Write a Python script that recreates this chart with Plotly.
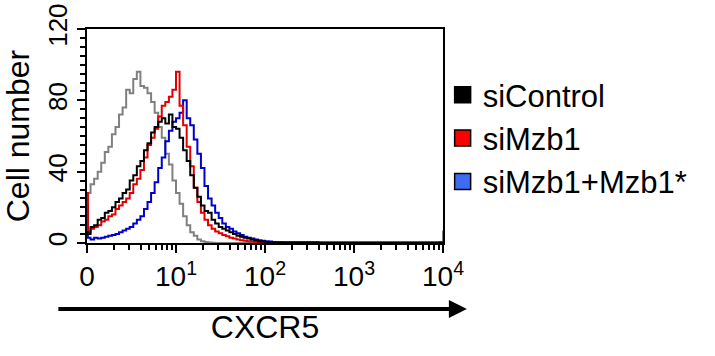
import numpy as np
import plotly.graph_objects as go

# x positions in display decades (0 = "0", 1 = 10^1, ... 4 = 10^4)
cxcr5_decades = [
    0.00, 0.01,
    0.04, 0.08, 0.12, 0.16, 0.20, 0.24, 0.28, 0.32, 0.36, 0.40,
    0.44, 0.48, 0.52, 0.56, 0.60, 0.64, 0.68, 0.72, 0.76, 0.80,
    0.84, 0.88, 0.92, 0.96, 1.00, 1.04, 1.08, 1.12, 1.16, 1.20,
    1.24, 1.28, 1.32, 1.36, 1.40, 1.44, 1.48, 1.52, 1.56, 1.60,
    1.64, 1.68, 1.72, 1.76, 1.80, 1.84, 1.88, 1.92, 1.96, 2.00,
    2.04, 2.08, 2.12, 2.16, 2.20,
    2.40, 2.60, 2.80, 3.00, 3.20, 3.40, 3.60, 3.80, 3.96, 4.00,
]

isotype_counts = [
    24, 28,
    33, 36, 40, 45, 51, 54, 61, 65, 72, 76,
    86, 84, 92, 96, 88, 87, 84, 79, 73, 65,
    59, 50, 44, 35, 28, 22, 15, 10, 6, 4,
    2, 1, 0.5, 0.3, 0.2, 0, 0, 0, 0, 0,
    0, 0, 0, 0, 0, 0, 0, 0, 0, 0,
    0, 0, 0, 0, 0,
    0, 0, 0, 0, 0, 0, 0, 0, 0.5, 7,
]

sicontrol_counts = [
    6, 5,
    9, 10, 13, 14, 17, 18, 20, 23, 25, 28,
    30, 35, 38, 43, 46, 52, 56, 62, 65, 68,
    70, 67, 72, 65, 64, 59, 52, 46, 38, 31,
    26, 21, 18, 17, 13, 11, 9, 8, 7, 6,
    5, 4, 3.5, 3, 2.5, 2, 1.5, 1, 0.8, 0.5,
    0.5, 0.4, 0.3, 0.3, 0.3,
    0.3, 0.2, 0.2, 0.2, 0.2, 0.2, 0.2, 0.2, 0.2, 0.2,
]

simzb1_counts = [
    28, 6,
    8, 9, 10, 12, 13, 15, 16, 19, 21, 23,
    25, 28, 33, 36, 41, 48, 55, 59, 64, 71,
    77, 79, 82, 86, 96, 77, 66, 54, 43, 31,
    23, 17, 13, 10, 8, 6.5, 5.5, 4.5, 3.8, 3,
    2.5, 2, 1.5, 1.2, 1, 0.8, 0.6, 0.5, 0.5, 0.4,
    0.3, 0.3, 0.3, 0.3, 0.3,
    0.3, 0.2, 0.2, 0.2, 0.2, 0.2, 0.2, 0.2, 0.2, 0.2,
]

rescue_counts = [
    22, 3,
    2, 3, 2.5, 3, 3.5, 4, 4.5, 5, 6, 7,
    8, 9, 11, 13, 15, 19, 23, 28, 34, 42,
    48, 57, 63, 68, 70, 73, 80, 70, 66, 58,
    50, 42, 32, 25, 21, 17, 14, 11, 9, 8,
    6.5, 5.5, 4.5, 3.5, 3, 2.5, 2, 1.5, 1.2, 1,
    0.8, 0.6, 0.5, 0.5, 0.4,
    0.4, 0.3, 0.3, 0.3, 0.3, 0.3, 0.3, 0.3, 0.3, 0.3,
]

legend_labels = ["siControl", "siMzb1", "siMzb1+Mzb1*"]
legend_colors = ["#000000", "#ff0000", "#3d6cf2"]

x_tickvals = [0, 1, 2, 3, 4]
x_ticktext = ["0", "10<sup>1</sup>", "10<sup>2</sup>", "10<sup>3</sup>", "10<sup>4</sup>"]
y_tickvals = [0, 40, 80, 120]

FONT = "Liberation Sans, Arial, sans-serif"

fig = go.Figure()

curves = [
    (isotype_counts, "#808080", "Isotype"),
    (rescue_counts, "#0000cc", legend_labels[2]),
    (simzb1_counts, "#e00000", legend_labels[1]),
    (sicontrol_counts, "#000000", legend_labels[0]),
]
for counts, color, name in curves:
    fig.add_trace(go.Scatter(
        x=cxcr5_decades, y=counts, mode="lines", line=dict(color=color, width=2, shape="hv"),
        name=name, showlegend=False, hoverinfo="skip",
    ))

for i, (lab, col) in enumerate(zip(legend_labels, legend_colors)):
    fig.add_trace(go.Scatter(
        x=[None], y=[None], mode="markers", name=lab, legendrank=i + 1,
        marker=dict(symbol="square", size=16, color=col, line=dict(color="black", width=1.5)),
    ))

minor_x = [d + np.log10(k) for d in range(4) for k in range(2, 10)]

fig.update_layout(
    width=715, height=356,
    margin=dict(l=87, r=272, t=29, b=113, autoexpand=False),
    paper_bgcolor="white", plot_bgcolor="white",
    font=dict(family=FONT, color="black"),
    showlegend=True,
    legend=dict(
        x=0.999, xanchor="left", y=0.49, yanchor="middle",
        font=dict(size=31, family=FONT, color="black"),
        bgcolor="rgba(0,0,0,0)", tracegroupgap=0, itemclick=False,
    ),
    xaxis=dict(
        range=[0, 4], tickvals=x_tickvals, ticktext=x_ticktext, automargin=False,
        showline=True, linecolor="black", linewidth=1.5, mirror=True,
        ticks="outside", ticklen=8, tickwidth=1.5, tickcolor="black",
        tickfont=dict(size=28, family=FONT, color="black"),
        showgrid=False, zeroline=False,
        minor=dict(tickvals=minor_x, ticks="outside", ticklen=5, tickwidth=1.5, tickcolor="black", showgrid=False),
        title=dict(text="CXCR5", font=dict(size=32, family=FONT, color="black"), standoff=24),
    ),
    yaxis=dict(
        range=[0, 120], tickvals=y_tickvals, tickangle=-90, automargin=False,
        showline=True, linecolor="black", linewidth=1.5, mirror=True,
        ticks="outside", ticklen=8, tickwidth=1.5, tickcolor="black",
        tickfont=dict(size=26, family=FONT, color="black"),
        showgrid=False, zeroline=False,
        minor=dict(dtick=5, ticks="outside", ticklen=5, tickwidth=1.5, tickcolor="black", showgrid=False),
        title=dict(text="Cell number", font=dict(size=32, family=FONT, color="black"), standoff=10),
    ),
    annotations=[dict(
        xref="paper", yref="paper", x=1.067, y=-0.308, ax=-410, ay=0,
        axref="pixel", ayref="pixel", text="", showarrow=True,
        arrowhead=2, arrowsize=0.9, arrowwidth=4, arrowcolor="black",
    )],
)

fig.write_html(
    "out.html",
    config={"displayModeBar": False},
    post_script="document.body.style.margin='0px';",
)
